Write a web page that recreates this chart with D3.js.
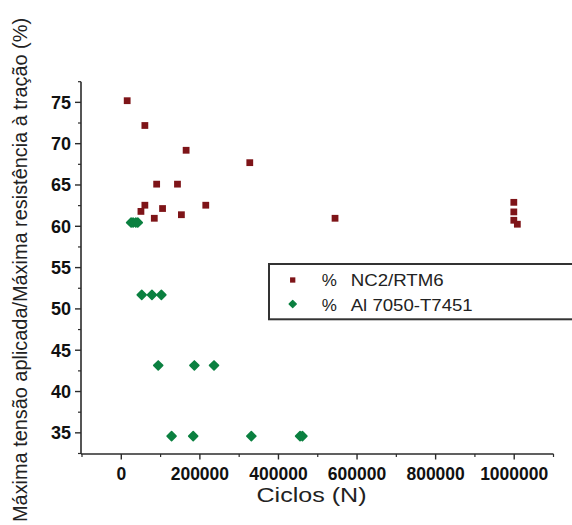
<!DOCTYPE html>
<html>
<head>
<meta charset="utf-8">
<script src="https://cdn.jsdelivr.net/npm/d3@7"></script>
<style>
  html, body { margin: 0; padding: 0; background: #fff; }
  svg { display: block; }
  text { font-family: "Liberation Sans", Arial, sans-serif; }
</style>
</head>
<body>
<svg id="chart" width="572" height="525"></svg>
<script>
// ---- data ----
const seriesNames = ["%  NC2/RTM6", "%  Al 7050-T7451"];
const nc2Cycles = [15000, 60000, 165000, 327000, 90000, 143000, 60000, 50000, 105000, 215000, 84000, 153000, 544000, 999000, 999000, 999000, 1008000];
const nc2Stress = [75.2, 72.2, 69.2, 67.7, 65.1, 65.1, 62.55, 61.8, 62.15, 62.55, 60.97, 61.4, 60.97, 62.9, 61.74, 60.73, 60.25];
const alCycles = [25000, 30000, 37000, 42000, 52000, 78000, 102000, 94000, 186000, 236000, 128000, 183000, 331000, 455000, 461000];
const alStress = [60.45, 60.45, 60.45, 60.45, 51.7, 51.7, 51.7, 43.16, 43.16, 43.16, 34.6, 34.6, 34.6, 34.6, 34.6];
const xTicks = [0, 200000, 400000, 600000, 800000, 1000000];
const yTicks = [35, 40, 45, 50, 55, 60, 65, 70, 75];
const xTitle = "Ciclos (N)";
const yTitle = "Máxima tensão aplicada/Máxima resistência à tração (%)";

// ---- layout ----
const svg = d3.select("#chart");
const axisColor = "#2b2b2b";
const red = "#7e1418";
const green = "#0b8040";

const x = d3.scaleLinear().domain([-100000, 1100000]).range([82, 553.5]);
const y = d3.scaleLinear().domain([32.5, 77.5]).range([453.5, 81.7]);
const x0 = 81, y0 = 454;

// minor ticks
const xMinor = d3.range(-100000, 1100001, 100000).filter(v => !xTicks.includes(v));
const yMinor = d3.range(32.5, 77.51, 2.5).filter(v => !yTicks.includes(v));

const g = svg.append("g");

// axis lines
g.append("line").attr("x1", x0).attr("x2", x0).attr("y1", y(77.5)).attr("y2", y0)
  .attr("stroke", axisColor).attr("stroke-width", 1.6);
g.append("line").attr("x1", x0).attr("x2", x(1100000)).attr("y1", y0).attr("y2", y0)
  .attr("stroke", axisColor).attr("stroke-width", 1.6);

// y ticks
g.selectAll(".ymaj").data(yTicks).join("line")
  .attr("x1", x0 - 6).attr("x2", x0).attr("y1", d => y(d)).attr("y2", d => y(d))
  .attr("stroke", axisColor).attr("stroke-width", 1.4);
g.selectAll(".ymin").data(yMinor).join("line")
  .attr("x1", x0 - 3).attr("x2", x0).attr("y1", d => y(d)).attr("y2", d => y(d))
  .attr("stroke", axisColor).attr("stroke-width", 1.2);
g.selectAll(".ylab").data(yTicks).join("text")
  .attr("x", 71).attr("y", d => y(d) + 6.5)
  .attr("text-anchor", "end").attr("font-size", 18).attr("font-weight", "bold")
  .attr("fill", "#111").text(d => d);

// x ticks
g.selectAll(".xmaj").data(xTicks).join("line")
  .attr("x1", d => x(d)).attr("x2", d => x(d)).attr("y1", y0).attr("y2", y0 + 5.5)
  .attr("stroke", axisColor).attr("stroke-width", 1.4);
g.selectAll(".xmin").data(xMinor).join("line")
  .attr("x1", d => x(d)).attr("x2", d => x(d)).attr("y1", y0).attr("y2", y0 + 3)
  .attr("stroke", axisColor).attr("stroke-width", 1.2);
g.selectAll(".xlab").data(xTicks).join("text")
  .attr("x", d => x(d)).attr("y", 480)
  .attr("text-anchor", "middle").attr("font-size", 17.5).attr("font-weight", "bold")
  .attr("fill", "#111").text(d => d);

// titles
svg.append("text").attr("x", 311.5).attr("y", 502)
  .attr("text-anchor", "middle").attr("font-size", 20).attr("fill", "#222")
  .attr("textLength", 110).attr("lengthAdjust", "spacingAndGlyphs")
  .text(xTitle);
svg.append("text").attr("transform", "translate(27,270) rotate(-90)")
  .attr("text-anchor", "middle").attr("font-size", 20).attr("fill", "#222")
  .attr("textLength", 504).attr("lengthAdjust", "spacingAndGlyphs")
  .text(yTitle);

// points
const sq = d3.symbol(d3.symbolSquare, 46);
const dia = d3.symbol(d3.symbolSquare, 40);

const nc2 = nc2Cycles.map((c, i) => ({c, s: nc2Stress[i]}));
const al = alCycles.map((c, i) => ({c, s: alStress[i]}));

svg.append("g").selectAll("path").data(al).join("path")
  .attr("d", dia)
  .attr("transform", d => `translate(${x(d.c)},${y(d.s)}) rotate(45)`)
  .attr("fill", green).attr("stroke", green).attr("stroke-width", 1.6)
  .attr("stroke-linejoin", "round");

svg.append("g").selectAll("path").data(nc2).join("path")
  .attr("d", sq)
  .attr("transform", d => `translate(${x(d.c)},${y(d.s)})`)
  .attr("fill", red);

// legend
const lg = svg.append("g");
lg.append("rect").attr("x", 269).attr("y", 264).attr("width", 320).attr("height", 55.3)
  .attr("fill", "#fff").attr("stroke", "#333").attr("stroke-width", 2);
const legendRows = [
  {name: seriesNames[0], y: 280, base: 286, color: red, sym: "sq", len: 93},
  {name: seriesNames[1], y: 304, base: 311, color: green, sym: "dia", len: 122}
];
legendRows.forEach(r => {
  if (r.sym === "sq") {
    lg.append("path").attr("d", d3.symbol(d3.symbolSquare, 28))
      .attr("transform", `translate(292.7,${r.y})`).attr("fill", r.color);
  } else {
    lg.append("path").attr("d", d3.symbol(d3.symbolSquare, 26))
      .attr("transform", `translate(292.7,${r.y}) rotate(45)`)
      .attr("fill", r.color).attr("stroke", r.color).attr("stroke-width", 1.2)
      .attr("stroke-linejoin", "round");
  }
  const parts = r.name.split(/\s+/);
  lg.append("text").attr("x", 321.7).attr("y", r.base).attr("font-size", 17)
    .attr("fill", "#222").text(parts[0]);
  lg.append("text").attr("x", 350.7).attr("y", r.base).attr("font-size", 17)
    .attr("fill", "#222").attr("textLength", r.len).attr("lengthAdjust", "spacingAndGlyphs")
    .text(parts.slice(1).join(" "));
});
</script>
</body>
</html>
